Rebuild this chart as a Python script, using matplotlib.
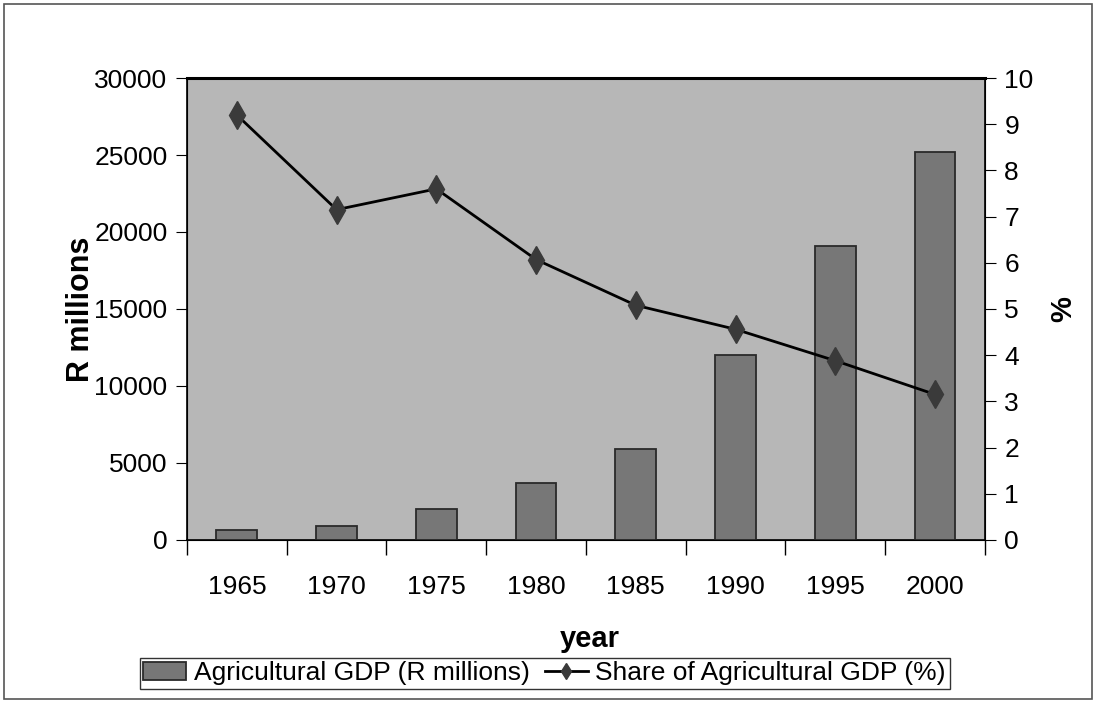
import matplotlib.pyplot as plt
import matplotlib.patches as patches

years = ['1965', '1970', '1975', '1980', '1985', '1990', '1995', '2000']
agri_gdp = [620, 900, 2000, 3700, 5900, 12000, 19100, 25200]
agri_share = [9.2, 7.15, 7.6, 6.07, 5.08, 4.56, 3.88, 3.15]

plt.rcParams['font.family'] = ['Liberation Sans', 'DejaVu Sans']

fig = plt.figure(figsize=(10.96, 7.03), dpi=100)
ax1 = fig.add_axes([0.1706, 0.232, 0.728, 0.657])
ax1.set_facecolor('#b7b7b7')

x = list(range(len(years)))
ax1.bar(x, agri_gdp, width=0.41, color='#777777', edgecolor='#2a2a2a',
        linewidth=1.3, label='Agricultural GDP (R millions)', zorder=3)
ax1.set_xlim(-0.5, len(years) - 0.5)
ax1.set_ylim(0, 30000)
ax1.set_yticks(range(0, 30001, 5000))
ax1.set_xticks(x)
ax1.set_xticklabels(years)
ax1.set_xticks([i + 0.5 for i in range(-1, len(years))], minor=True)
ax1.tick_params(axis='x', which='major', length=0, labelsize=19, pad=25)
ax1.tick_params(axis='x', which='minor', length=11, width=1, direction='out')
ax1.tick_params(axis='y', labelsize=19, length=8, pad=6, direction='out')
ax1.set_ylabel('R millions', fontsize=22, fontweight='bold')
ax1.yaxis.set_label_coords(-0.114, 0.5)
ax1.set_xlabel('year', fontsize=21, fontweight='bold')
ax1.xaxis.set_label_coords(0.505, -0.185)
for s in ax1.spines.values():
    s.set_linewidth(1.2)
ax1.spines['top'].set_linewidth(2.2)

ax2 = ax1.twinx()
ax2.plot(x, agri_share, color='black', linewidth=2, marker='d',
         markersize=14, markerfacecolor='#3a3a3a', markeredgecolor='#3a3a3a',
         label='Share of Agricultural GDP (%)', zorder=4)
ax2.set_ylim(0, 10)
ax2.set_yticks(range(0, 11))
ax2.tick_params(axis='y', labelsize=19, length=8, pad=6, direction='out')
ax2.set_ylabel('%', fontsize=21, fontweight='bold')
ax2.yaxis.set_label_coords(1.081, 0.5)

h1, l1 = ax1.get_legend_handles_labels()
h2, l2 = ax2.get_legend_handles_labels()
leg = fig.legend(h1 + h2, l1 + l2, loc='center', bbox_to_anchor=(0.497, 0.042),
                 ncol=2, fontsize=19, frameon=True, fancybox=False,
                 edgecolor='black', handlelength=1.6, columnspacing=0.6,
                 handletextpad=0.3, borderpad=0.15, borderaxespad=0,
                 markerscale=0.55)
leg.get_frame().set_linewidth(1)

fig.patches.append(patches.Rectangle((0.004, 0.006), 0.992, 0.988,
                                     transform=fig.transFigure, fill=False,
                                     edgecolor='#555555', linewidth=1.2))

plt.savefig('out.png', dpi=100)
